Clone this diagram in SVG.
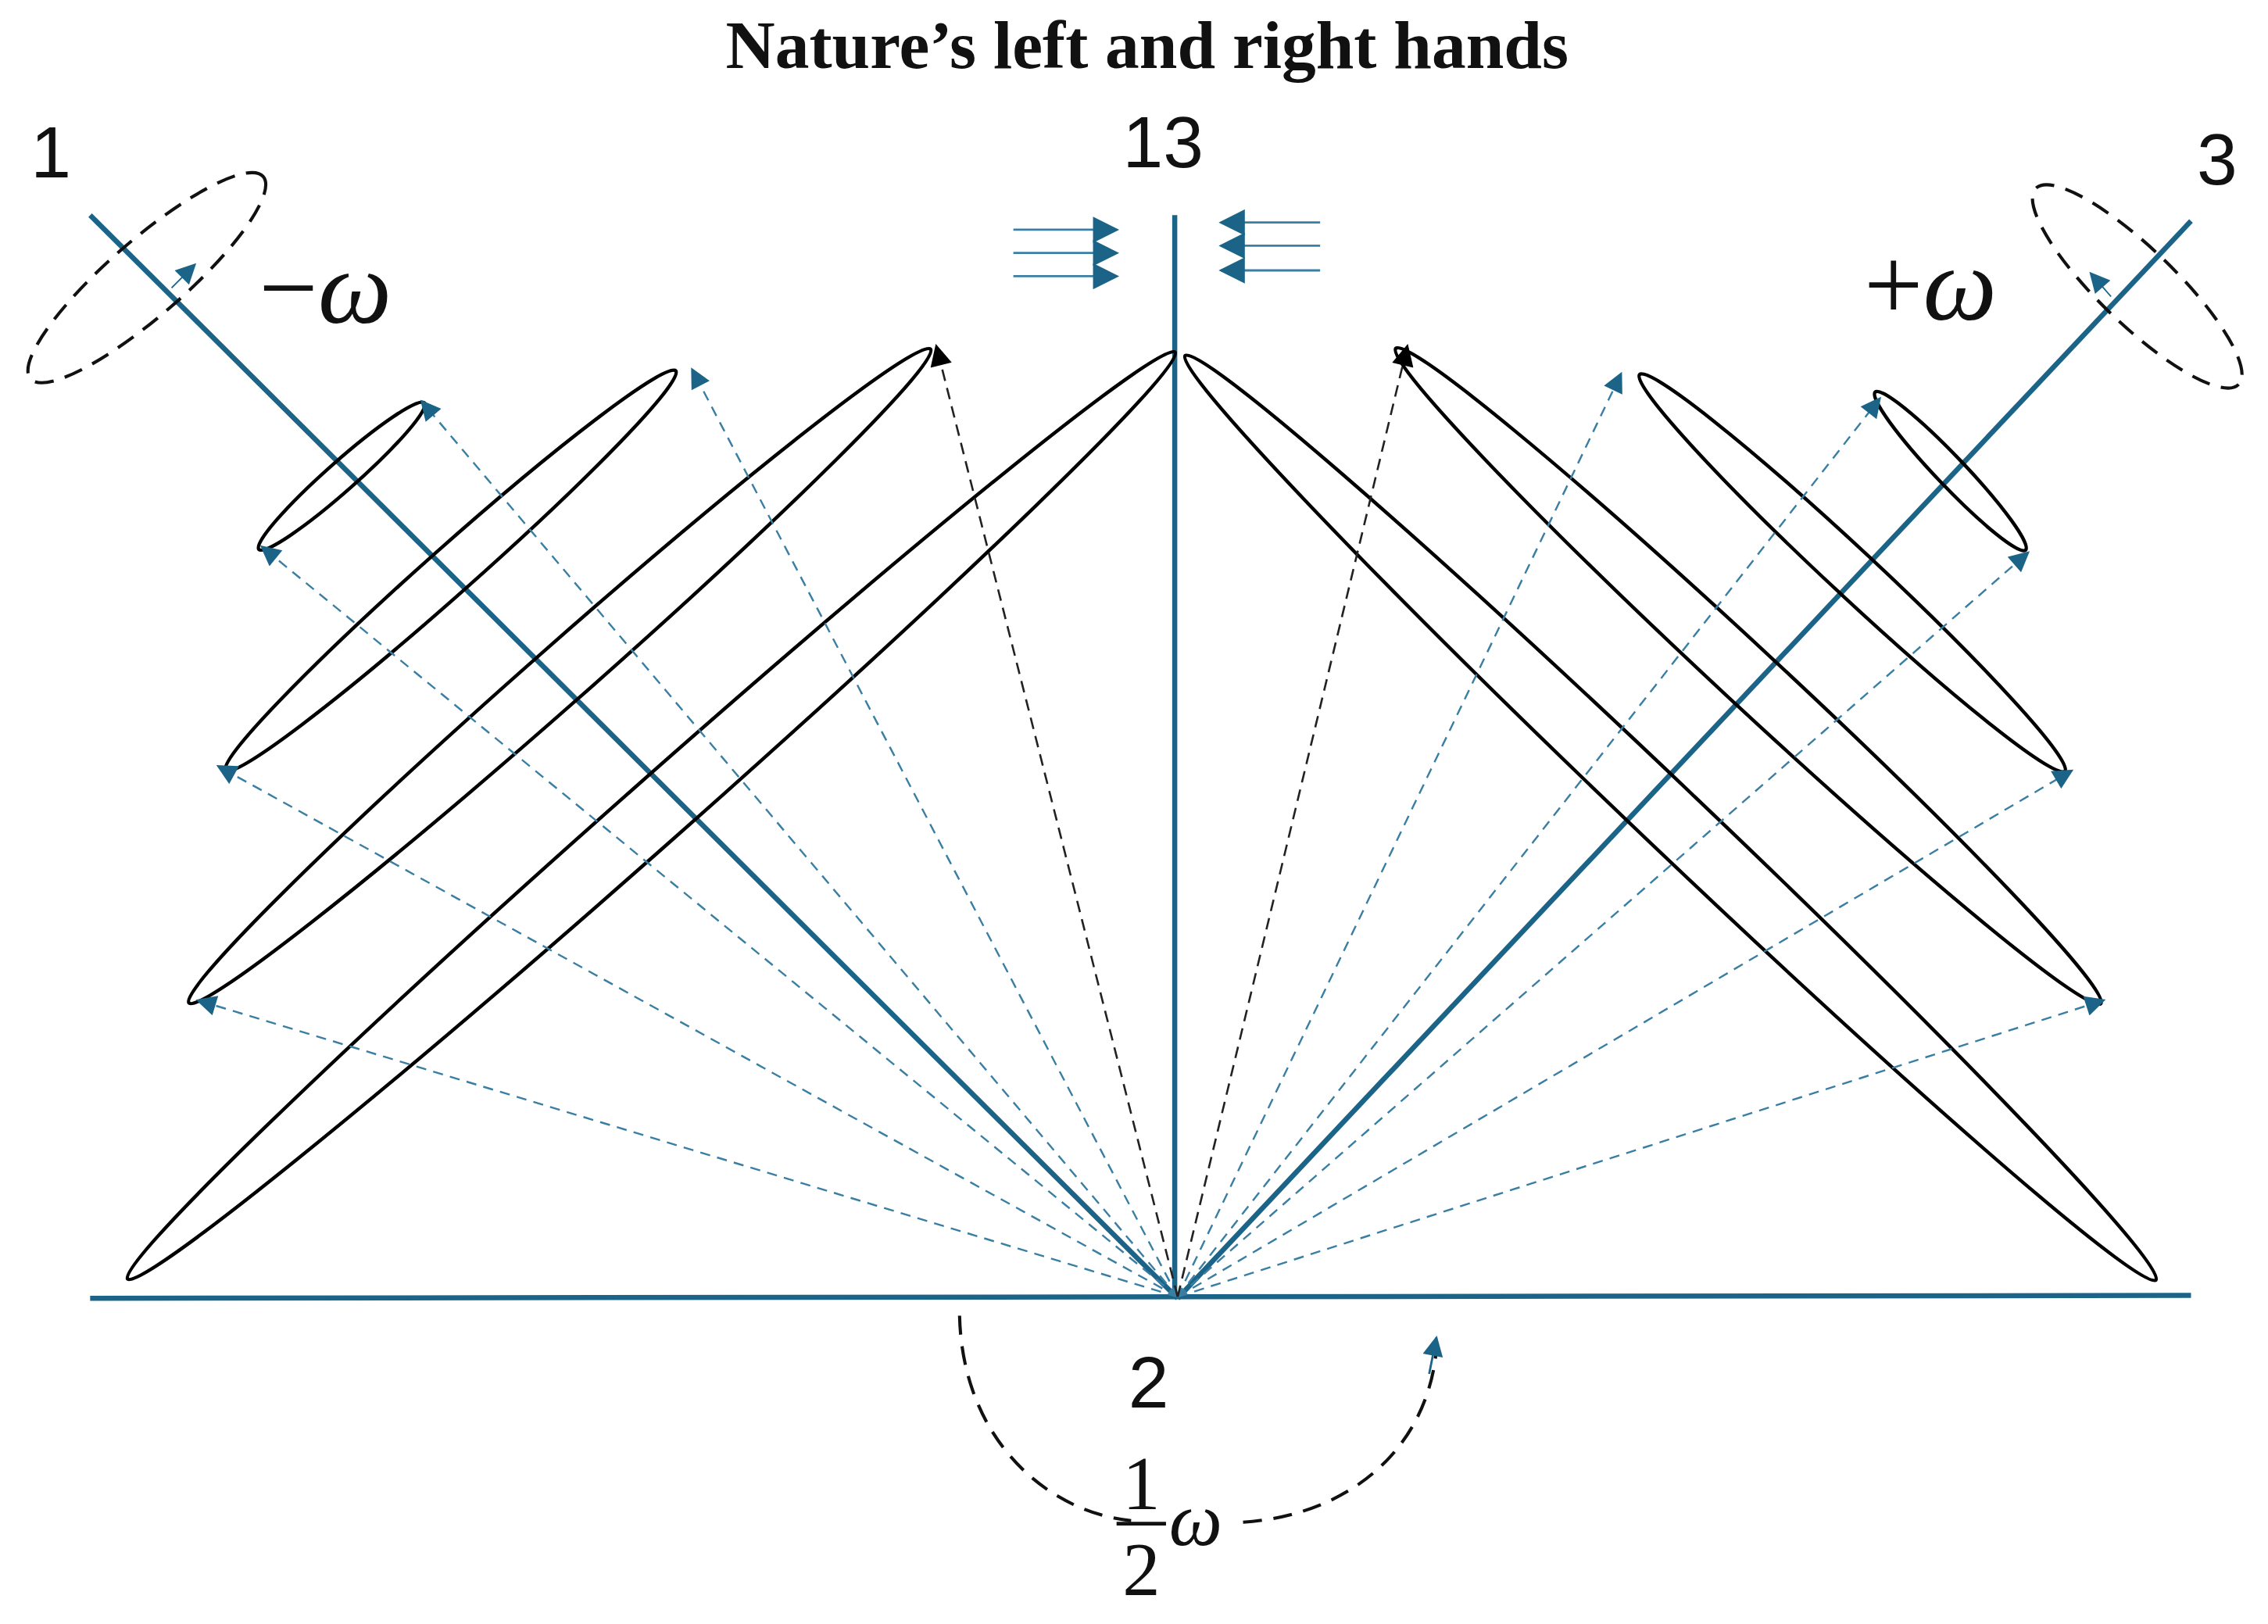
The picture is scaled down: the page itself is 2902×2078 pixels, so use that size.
<svg xmlns="http://www.w3.org/2000/svg" width="2902" height="2078" viewBox="0 0 2902 2078">
<defs>
<style>
.ax{stroke:#1b6488;stroke-width:3.5;fill:none}
.el{stroke:#000;stroke-width:2.4;fill:none}
.bd{stroke:#3a7fa3;stroke-width:1.3;stroke-dasharray:7 5;fill:none}
.kd{stroke:#222;stroke-width:1.4;stroke-dasharray:8 5;fill:none}
.ld{stroke:#111;stroke-width:2.2;stroke-dasharray:13 8;fill:none}
.hl{stroke:#3a7fa3;stroke-width:1.5;fill:none}
.num{font-family:"Liberation Sans",Arial,sans-serif;font-size:50px;fill:#111}
.om{font-family:"Liberation Serif","Times New Roman",serif;font-style:italic;font-size:72px;fill:#111}
.sr{font-family:"Liberation Serif","Times New Roman",serif;fill:#111}
</style>
<marker id="ab" viewBox="0 0 10 10" refX="9" refY="5" markerWidth="15" markerHeight="14" markerUnits="userSpaceOnUse" orient="auto"><path d="M0,0 L10,5 L0,10 z" fill="#1b6488"/></marker>
<marker id="ak" viewBox="0 0 10 10" refX="9" refY="5" markerWidth="16" markerHeight="15" markerUnits="userSpaceOnUse" orient="auto"><path d="M0,0 L10,5 L0,10 z" fill="#000"/></marker>
<marker id="ah" viewBox="0 0 10 10" refX="9" refY="5" markerWidth="26" markerHeight="18" markerUnits="userSpaceOnUse" orient="auto"><path d="M0,0 L10,5 L0,10 z" fill="#1b6488"/></marker>
</defs>
<rect width="2902" height="2078" fill="#fff"/>
<g transform="scale(1.8603)">
<text id="title" x="789" y="47" text-anchor="middle" class="sr" font-weight="bold" font-size="47">Nature’s left and right hands</text>

<g id="axes">
<line class="ax" x1="62" y1="893" x2="1507" y2="891" stroke-width="4"/>
<line class="ax" x1="808" y1="148" x2="808" y2="893"/>
<line class="ax" x1="62" y1="148" x2="810" y2="893"/>
<line class="ax" x1="1507" y1="152" x2="810" y2="893"/>
</g>

<g id="labels">
<text class="num" x="35" y="122" text-anchor="middle">1</text>
<text class="num" x="800" y="115" text-anchor="middle">13</text>
<text class="num" x="1525" y="127" text-anchor="middle">3</text>
<text class="num" x="790" y="968" text-anchor="middle">2</text>
<text class="om" x="178" y="222"><tspan font-style="normal">−</tspan>ω</text>
<text class="om" x="1282" y="220"><tspan font-style="normal">+</tspan>ω</text>
<text class="sr" x="785" y="1038" text-anchor="middle" font-size="52">1</text>
<line x1="768" y1="1048" x2="802" y2="1048" stroke="#111" stroke-width="2.5"/>
<text class="sr" x="785" y="1097" text-anchor="middle" font-size="52">2</text>
<text class="sr" x="804" y="1063" font-size="52" font-style="italic">ω</text>
</g>

<g id="left-ellipses">
<ellipse class="el" cx="235" cy="327.5" rx="76" ry="10" transform="rotate(-41.5 235 327.5)"/>
<ellipse class="el" cx="310" cy="392.5" rx="207" ry="16" transform="rotate(-41.6 310 392.5)"/>
<ellipse class="el" cx="385" cy="465" rx="340" ry="20" transform="rotate(-41.4 385 465)"/>
<ellipse class="el" cx="448" cy="561" rx="481" ry="22" transform="rotate(-41.5 448 561)"/>
<ellipse class="ld" cx="101" cy="191" rx="106" ry="26" transform="rotate(-41 101 191)"/>
</g>
<g id="right-ellipses">
<ellipse class="el" cx="1341.5" cy="324" rx="75" ry="10" transform="rotate(46.4 1341.5 324)"/>
<ellipse class="el" cx="1274" cy="394" rx="200" ry="16" transform="rotate(43 1274 394)"/>
<ellipse class="el" cx="1202.5" cy="465" rx="331" ry="20" transform="rotate(42.9 1202.5 465)"/>
<ellipse class="el" cx="1149" cy="562.5" rx="461" ry="22" transform="rotate(43.6 1149 562.5)"/>
<ellipse class="ld" cx="1470" cy="197" rx="97" ry="26" transform="rotate(44 1470 197)"/>
</g>

<g id="connectors">
<line class="bd" x1="810" y1="892" x2="290" y2="276" marker-end="url(#ab)"/>
<line class="bd" x1="810" y1="892" x2="180" y2="376" marker-end="url(#ab)"/>
<line class="bd" x1="810" y1="892" x2="476" y2="254" marker-end="url(#ab)"/>
<line class="bd" x1="810" y1="892" x2="150" y2="527" marker-end="url(#ab)"/>
<line class="bd" x1="810" y1="892" x2="136" y2="688" marker-end="url(#ab)"/>
<line class="kd" x1="810" y1="892" x2="644" y2="238" marker-end="url(#ak)"/>
<line class="bd" x1="810" y1="892" x2="1115" y2="257" marker-end="url(#ab)"/>
<line class="bd" x1="810" y1="892" x2="1293" y2="274" marker-end="url(#ab)"/>
<line class="bd" x1="810" y1="892" x2="1395" y2="380" marker-end="url(#ab)"/>
<line class="bd" x1="810" y1="892" x2="1425" y2="530" marker-end="url(#ab)"/>
<line class="bd" x1="810" y1="892" x2="1447" y2="688" marker-end="url(#ab)"/>
<line class="kd" x1="810" y1="892" x2="968" y2="238" marker-end="url(#ak)"/>
<line x1="118" y1="198" x2="134" y2="182" stroke="#1b6488" stroke-width="1" marker-end="url(#ab)"/>
<line x1="1452" y1="204" x2="1438" y2="188" stroke="#1b6488" stroke-width="1" marker-end="url(#ab)"/>
<line class="hl" x1="697" y1="158" x2="768" y2="158" marker-end="url(#ah)"/>
<line class="hl" x1="697" y1="174" x2="768" y2="174" marker-end="url(#ah)"/>
<line class="hl" x1="697" y1="190" x2="768" y2="190" marker-end="url(#ah)"/>
<line class="hl" x1="908" y1="153" x2="840" y2="153" marker-end="url(#ah)"/>
<line class="hl" x1="908" y1="169" x2="840" y2="169" marker-end="url(#ah)"/>
<line class="hl" x1="908" y1="186" x2="840" y2="186" marker-end="url(#ah)"/>
<path class="ld" d="M660,905 C662,990 720,1040 778,1046"/>
<path class="ld" d="M855,1047 C930,1042 982,995 988,928"/>
<line x1="983" y1="945" x2="988" y2="920" stroke="#1b6488" stroke-width="1.5" marker-end="url(#ab)"/>
</g>
</g>
</svg>
